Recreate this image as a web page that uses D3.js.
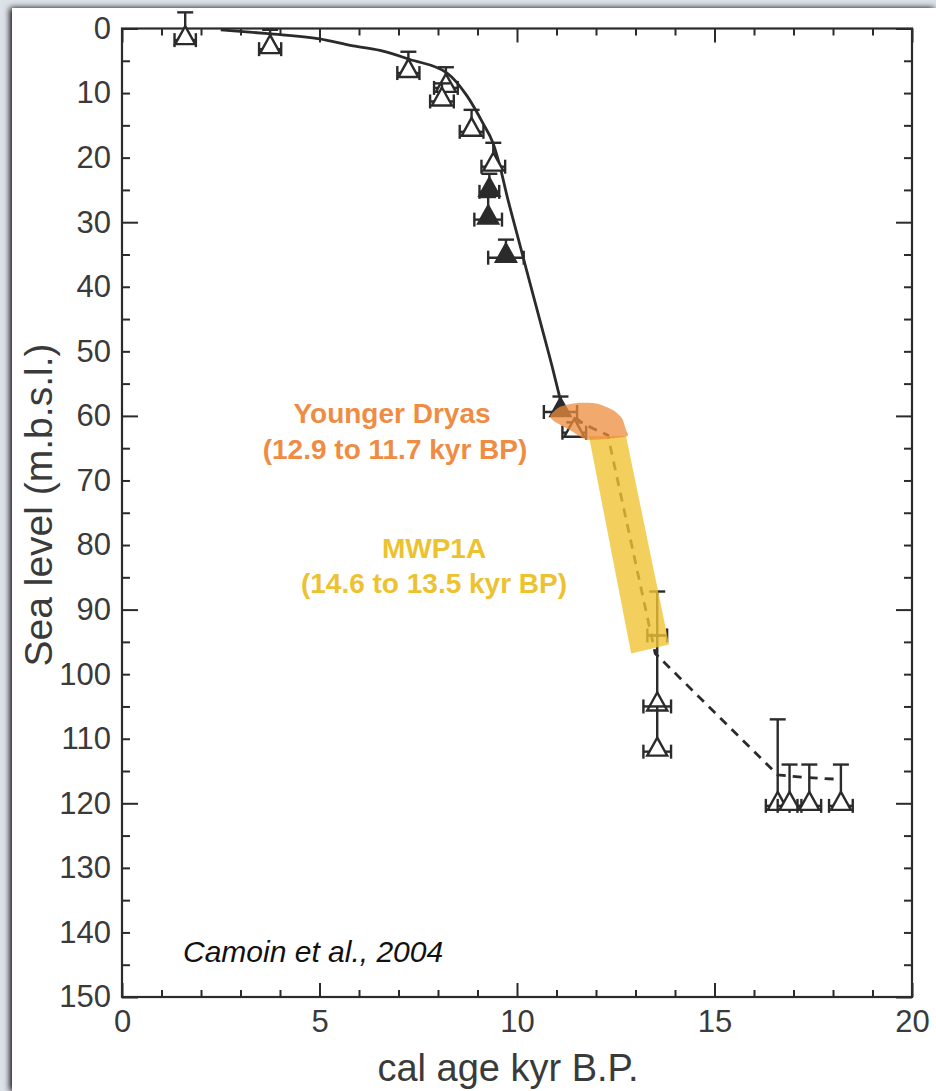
<!DOCTYPE html>
<html><head><meta charset="utf-8">
<script src="https://cdn.jsdelivr.net/npm/d3@7"></script>
<style>
html,body{margin:0;padding:0;background:#dde1e8;}
svg{display:block;}
</style></head>
<body>
<svg id="chart" width="936" height="1091"></svg>
<script>
// ---- data ----
const xTickLabels = ["0","5","10","15","20"];
const yTickLabels = ["0","10","20","30","40","50","60","70","80","90","100","110","120","130","140","150"];

const ages      = [1.6, 3.75, 7.25, 8.2, 8.1, 8.85, 9.4, 9.3, 9.27, 9.72, 11.1, 11.45, 13.55, 13.55, 13.55, 16.6, 16.9, 17.4, 18.2];
const depths    = [1.8, 3.2, 6.9, 9.2, 11.3, 16.0, 21.4, 25.3, 29.6, 35.5, 59.4, 62.6, 94.0, 105.0, 112.0, 120.4, 120.4, 120.4, 120.4];
const depthTops = [-2.5, 0.2, 3.6, 6.0, 8.5, 12.6, 17.7, 22.5, 26.1, 32.7, 57.0, 61.0, 87.2, 94.0, 105.0, 107.0, 114.0, 114.0, 114.0];
const ageErrs   = [0.27, 0.28, 0.28, 0.3, 0.3, 0.3, 0.3, 0.25, 0.35, 0.45, 0.42, 0.3, 0.25, 0.35, 0.35, 0.3, 0.3, 0.3, 0.3];
const symbols   = ["open","open","open","open","open","open","open","filled","filled","filled","filled","open","none","open","open","open","open","open","open"];

const solidAges   = [2.5, 3.7, 5.0, 5.85, 6.53, 7.29, 8.23, 8.73, 9.14, 9.39, 9.57, 9.75, 10.0, 10.25, 10.58, 10.9, 11.15];
const solidDepths = [0.2, 0.8, 1.6, 2.7, 3.4, 4.8, 6.9, 10.4, 14.7, 17.7, 21.4, 26.0, 31.8, 37.6, 45.2, 52.6, 58.8];

const dashAges   = [11.15, 11.7, 12.3, 13.5, 16.6, 17.3, 18.2];
const dashDepths = [58.8, 61.3, 63.0, 96.8, 115.6, 116.0, 116.3];

const ydAges   = [10.84, 11.09, 11.52, 12.03, 12.43, 12.66, 12.76, 12.76, 11.80, 11.34, 10.96];
const ydDepths = [60.0, 58.6, 58.0, 58.1, 59.1, 60.4, 62.2, 63.2, 63.7, 62.2, 60.9];

const mwpAges   = [11.82, 12.76, 13.85, 12.89];
const mwpDepths = [63.1, 63.1, 95.4, 96.8];

// ---- layout ----
const svg = d3.select("#chart");
const W = 936, H = 1091;
const x = d3.scaleLinear().domain([0, 20]).range([122, 912]);
const y = d3.scaleLinear().domain([0, 150]).range([28.5, 997]);

// page background & white panel
svg.append("rect").attr("width", W).attr("height", H).attr("fill", "#dde1e8");
const defs = svg.append("defs");
const f = defs.append("filter").attr("id","sh").attr("x","-5%").attr("y","-5%").attr("width","110%").attr("height","110%");
f.append("feGaussianBlur").attr("in","SourceAlpha").attr("stdDeviation",3);
f.append("feOffset").attr("dx",-2).attr("dy",0).attr("result","b");
const fm = f.append("feMerge"); fm.append("feMergeNode").attr("in","b"); fm.append("feMergeNode").attr("in","SourceGraphic");
svg.append("rect").attr("x", 12).attr("y", 8).attr("width", W - 12).attr("height", H - 8)
  .attr("fill", "#ffffff").attr("filter","url(#sh)");

const ink = "#2b2b2b";
const font = "'Liberation Sans', Arial, Helvetica, sans-serif";

// ---- axes ----
const xTicks = d3.range(0, 21, 1);
const yTicks = d3.range(0, 151, 5);
const xLen = d => (d % 5 === 0 ? 14 : 7);
const yLen = d => (d % 30 === 0 ? 16 : 8);

function styleAxis(g) {
  g.select(".domain").remove();
  g.selectAll("line").attr("stroke", ink).attr("stroke-width", 2);
  g.selectAll("text").attr("fill", "#3a3a3a").attr("font-family", font).attr("font-size", 31);
}

const gB = svg.append("g").attr("transform", `translate(0,${y(150)})`)
  .call(d3.axisBottom(x).tickValues(xTicks).tickSize(0).tickPadding(13)
    .tickFormat(d => d % 5 === 0 ? xTickLabels[d / 5] : ""));
styleAxis(gB);
gB.selectAll(".tick line").attr("y2", d => -xLen(d));

const gT = svg.append("g").attr("transform", `translate(0,${y(0)})`)
  .call(d3.axisTop(x).tickValues(xTicks).tickSize(0).tickFormat(""));
styleAxis(gT);
gT.selectAll(".tick line").attr("y2", d => xLen(d));

const gL = svg.append("g").attr("transform", `translate(${x(0)},0)`)
  .call(d3.axisLeft(y).tickValues(yTicks).tickSize(0).tickPadding(11)
    .tickFormat(d => d % 10 === 0 ? yTickLabels[d / 10] : ""));
styleAxis(gL);
gL.selectAll(".tick line").attr("x2", d => yLen(d));

const gR = svg.append("g").attr("transform", `translate(${x(20)},0)`)
  .call(d3.axisRight(y).tickValues(yTicks).tickSize(0).tickFormat(""));
styleAxis(gR);
gR.selectAll(".tick line").attr("x2", d => -yLen(d));

// frame
svg.append("rect").attr("x", x(0)).attr("y", y(0)).attr("width", x(20) - x(0)).attr("height", y(150) - y(0))
  .attr("fill", "none").attr("stroke", ink).attr("stroke-width", 2.2);

// axis titles
svg.append("text").attr("x", 508).attr("y", 1081).attr("text-anchor", "middle")
  .attr("font-family", font).attr("font-size", 38).attr("fill", "#3a3a3a").text("cal age kyr B.P.");
svg.append("text").attr("transform", `translate(52,${505}) rotate(-90)`).attr("text-anchor", "middle")
  .attr("font-family", font).attr("font-size", 39).attr("fill", "#3a3a3a").text("Sea level (m.b.s.l.)");

// ---- curves ----
const solid = d3.line().x(d => x(d[0])).y(d => y(d[1])).curve(d3.curveMonotoneX);
svg.append("path").datum(d3.zip(solidAges, solidDepths)).attr("d", solid)
  .attr("fill", "none").attr("stroke", ink).attr("stroke-width", 2.8);
const dashed = d3.line().x(d => x(d[0])).y(d => y(d[1]));
svg.append("path").datum(d3.zip(dashAges, dashDepths)).attr("d", dashed)
  .attr("fill", "none").attr("stroke", ink).attr("stroke-width", 2.8).attr("stroke-dasharray", "9,7");

// ---- data points ----
const pts = ages.map((a, i) => ({a, d: depths[i], top: depthTops[i], e: ageErrs[i], s: symbols[i]}));
const gp = svg.append("g").attr("stroke", ink).attr("stroke-width", 2.4).attr("fill", "none");
pts.forEach(p => {
  const cx = x(p.a), cy = y(p.d);
  // horizontal error bar with caps
  gp.append("line").attr("x1", x(p.a - p.e)).attr("x2", x(p.a + p.e)).attr("y1", cy).attr("y2", cy);
  gp.append("line").attr("x1", x(p.a - p.e)).attr("x2", x(p.a - p.e)).attr("y1", cy - 7).attr("y2", cy + 7);
  gp.append("line").attr("x1", x(p.a + p.e)).attr("x2", x(p.a + p.e)).attr("y1", cy - 7).attr("y2", cy + 7);
  // vertical error bar with cap
  gp.append("line").attr("x1", cx).attr("x2", cx).attr("y1", y(p.top)).attr("y2", cy);
  gp.append("line").attr("x1", cx - 8).attr("x2", cx + 8).attr("y1", y(p.top)).attr("y2", y(p.top));
  if (p.s !== "none") {
    gp.append("path").attr("d", `M${cx},${cy - 14}L${cx + 10},${cy + 4}L${cx - 10},${cy + 4}Z`)
      .attr("fill", p.s === "filled" ? ink : "#fff");
  }
});

// ---- highlighted periods ----
const area = d3.line().x(d => x(d[0])).y(d => y(d[1]));
svg.append("path").datum(d3.zip(mwpAges, mwpDepths)).attr("d", d => area(d) + "Z")
  .attr("fill", "rgb(240,196,52)").attr("fill-opacity", 0.8);
const blob = d3.line().x(d => x(d[0])).y(d => y(d[1])).curve(d3.curveCardinalClosed.tension(0.3));
svg.append("path").datum(d3.zip(ydAges, ydDepths)).attr("d", blob)
  .attr("fill", "rgb(238,140,62)").attr("fill-opacity", 0.75);

// ---- annotations ----
svg.append("text").attr("x", 392).attr("y", 423).attr("text-anchor", "middle").attr("font-family", font)
  .attr("font-weight", "bold").attr("font-size", 28).attr("fill", "#ef8c43").text("Younger Dryas");
svg.append("text").attr("x", 395).attr("y", 459).attr("text-anchor", "middle").attr("font-family", font)
  .attr("font-weight", "bold").attr("font-size", 28).attr("fill", "#ef8c43").text("(12.9 to 11.7 kyr BP)");
svg.append("text").attr("x", 434).attr("y", 558).attr("text-anchor", "middle").attr("font-family", font)
  .attr("font-weight", "bold").attr("font-size", 28).attr("fill", "#ecc230").text("MWP1A");
svg.append("text").attr("x", 434).attr("y", 593).attr("text-anchor", "middle").attr("font-family", font)
  .attr("font-weight", "bold").attr("font-size", 28).attr("fill", "#ecc230").text("(14.6 to 13.5 kyr BP)");
svg.append("text").attr("x", 183).attr("y", 962).attr("font-family", font).attr("font-style", "italic")
  .attr("font-size", 30).attr("fill", "#111").text("Camoin et al., 2004");
</script>
</body></html>
